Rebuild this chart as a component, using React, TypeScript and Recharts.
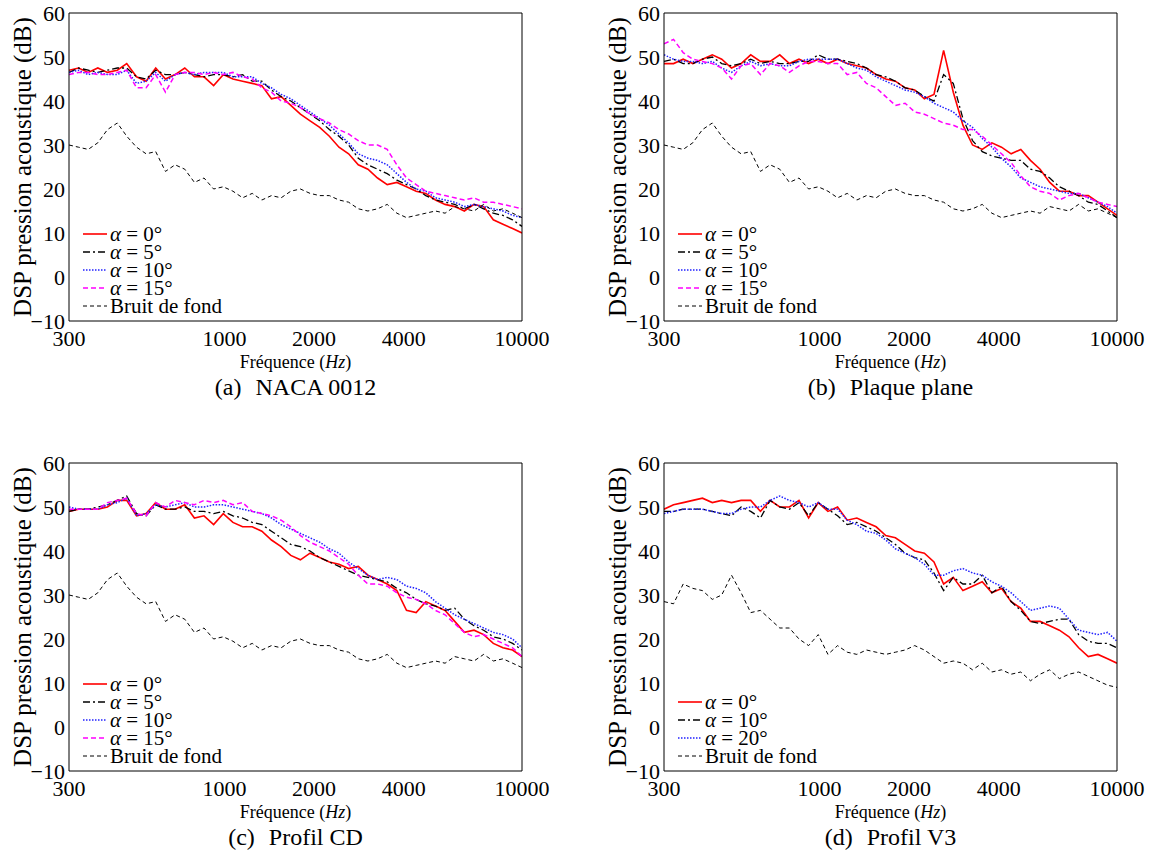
import { LineChart, Line, XAxis, YAxis } from "recharts";

// frequency grid (Hz), shared by every panel
const FREQ = [300, 323, 348, 375, 404, 436, 469, 506, 545, 587, 633, 682, 735, 792, 853, 919, 990, 1067, 1150, 1239, 1335, 1438, 1550, 1670, 1799, 1939, 2089, 2251, 2425, 2613, 2816, 3034, 3269, 3523, 3796, 4090, 4407, 4749, 5117, 5513, 5941, 6401, 6897, 7432, 8008, 8629, 9297, 10000];
const MAJOR_TICKS = [300, 1000, 2000, 4000, 10000];
const MINOR_TICKS = [600, 900, 1000, 2000, 4000, 8000];
const Y_TICKS = [-10, 0, 10, 20, 30, 40, 50, 60];

// background noise (same run for a, b, c)
const BG_ABC = [30, 29.5, 29, 30.5, 33.5, 35, 32, 29.5, 28, 28.5, 24, 25.5, 24.5, 21.5, 22.5, 20, 20.5, 19.5, 18, 19, 17.5, 18.5, 18, 19.5, 20, 19, 18.5, 18.5, 17.5, 17, 15.5, 15, 15.5, 16.5, 14.5, 13.5, 14, 14.5, 15, 14.5, 16, 15.5, 15, 16.5, 15, 15.5, 14.5, 13.5];
const BG_D = [28.5, 28, 32.5, 31.5, 31, 29, 30, 34.5, 30.5, 26, 26.5, 24.5, 22.5, 22.5, 20, 18.5, 21, 16.5, 18.5, 17, 16.5, 17.5, 17, 16.5, 17, 17.5, 18.5, 17.5, 16, 14.5, 15, 14.5, 13, 14.5, 12.5, 13, 12, 12.5, 10.5, 12, 13, 11, 12, 12.5, 11.5, 10.5, 9.5, 9];

// (a) NACA 0012
const A_A0 = [47, 47.5, 46.5, 47.5, 46.5, 47, 48.5, 45.5, 44.5, 47.5, 45, 46, 47.5, 45.5, 45.5, 43.5, 46, 45, 44.5, 44, 43.5, 40.5, 41, 39, 37, 35.5, 34, 32, 29.5, 28, 25.5, 24.5, 22.5, 21, 21.5, 20.5, 19.5, 19, 17.5, 16.5, 16, 15, 16.5, 16, 13, 12, 11, 10];
const A_A5 = [46.5, 47.5, 47, 46.5, 47, 47.5, 47.5, 45.5, 45, 47, 46, 46, 46.5, 46, 45.5, 46, 46, 45.5, 46, 44.5, 44.5, 42.5, 41, 40, 38.5, 37, 35.5, 33.5, 32, 30, 27, 25.5, 24.5, 23.5, 22, 21, 20, 18.5, 17.5, 17, 16.5, 15.5, 16.5, 15.5, 14.5, 14, 13, 11.5];
const A_A10 = [46.5, 47, 46, 46.5, 46, 46, 47, 44, 44.5, 46.5, 44.5, 46, 46.5, 46, 46.5, 46.5, 46.5, 45.5, 45.5, 45.5, 44, 43, 41.5, 40.5, 39, 37.5, 36, 34.5, 32.5, 30.5, 28, 27, 26.5, 25.5, 23.5, 21.5, 20, 19.5, 18, 17.5, 17, 16, 16.5, 16, 15.5, 15, 14, 13.5];
const A_A15 = [46, 46.5, 46.5, 46, 46, 46.5, 47, 43, 43, 46, 42, 46, 46.5, 46.5, 46, 46.5, 46, 46.5, 45.5, 45, 43, 42, 40, 39.5, 38.5, 37, 36, 35, 33.5, 32.5, 31, 30, 30, 29, 25.5, 22.5, 21, 19.5, 19, 18.5, 18, 17.5, 18, 17, 17, 16.5, 16, 15.5];

// (b) Plaque plane
const B_A0 = [48.5, 48.5, 49.5, 48.5, 49.5, 50.5, 49.5, 47.5, 48.5, 50.5, 49, 49, 50.5, 48.5, 49.5, 48.5, 49.5, 48.5, 49.5, 48.5, 48, 47.5, 46, 45, 44.5, 43, 42.5, 40.5, 41.5, 51.5, 42, 34.5, 30, 29, 30.5, 29.5, 28, 29, 26.5, 24.5, 21.5, 19.5, 19.5, 18.5, 18.5, 17, 15.5, 14];
const B_A5 = [49, 49.5, 48.5, 48.5, 49.5, 50, 48.5, 48, 48.5, 49.5, 48.5, 49, 48.5, 48.5, 49, 49, 50.5, 49.5, 49.5, 49, 48.5, 47.5, 46, 45.5, 44.5, 43, 42.5, 41, 40, 46, 44, 36, 31, 28.5, 27.5, 27, 26.5, 26.5, 24.5, 24, 22.5, 20.5, 19.5, 18.5, 17, 16.5, 15, 13.5];
const B_A10 = [50.5, 49.5, 49, 49, 48.5, 49, 47.5, 46.5, 48, 49, 48, 48.5, 48, 48, 49, 49.5, 49.5, 49.5, 49.5, 48.5, 47.5, 47, 45.5, 44.5, 43.5, 42.5, 42, 41, 39.5, 38.5, 37.5, 35.5, 34, 31.5, 29.5, 27, 25, 22.5, 21.5, 20.5, 20, 19.5, 19, 19, 18, 17, 16, 14.5];
const B_A15 = [53, 54, 51, 49.5, 49, 48.5, 47.5, 45, 48, 48.5, 46, 48.5, 48, 46.5, 48, 49, 49, 48.5, 48.5, 46, 46.5, 44, 43, 41, 39, 39.5, 37.5, 37, 36, 35, 34.5, 33.5, 33.5, 32, 30, 28, 26, 23, 20.5, 19.5, 19, 17.5, 18.5, 19, 18, 17, 16.5, 16];

// (c) Profil CD
const C_A0 = [49, 49.5, 49.5, 49.5, 50, 51.5, 51.5, 48, 48.5, 51, 49.5, 49.5, 50.5, 47.5, 48, 46, 48.5, 46.5, 45.5, 45.5, 44.5, 42.5, 41, 39, 38, 39.5, 38.5, 37.5, 37, 36, 36.5, 34.5, 33.5, 32.5, 31, 26.5, 26, 28.5, 27.5, 26.5, 24, 21.5, 22, 21, 19, 18, 17.5, 16];
const C_A5 = [49, 49.5, 49.5, 50, 50.5, 51.5, 52.5, 48.5, 48, 50.5, 49.5, 49.5, 50, 49, 49, 48.5, 49, 48, 47.5, 46.5, 46, 44.5, 43, 41.5, 41, 40, 38.5, 37.5, 36.5, 35.5, 34.5, 34, 33.5, 33, 31.5, 30.5, 29, 28, 27.5, 26.5, 27, 24.5, 23, 22, 20.5, 20, 19, 17.5];
const C_A10 = [50, 49.5, 49.5, 49.5, 50.5, 51, 52, 48, 48.5, 50.5, 50, 50.5, 51, 50, 50, 50.5, 50.5, 50, 49.5, 49, 48.5, 47.5, 46, 45, 44, 43, 42, 40.5, 39.5, 37.5, 36, 34.5, 33.5, 34, 33.5, 32, 31.5, 30.5, 28.5, 27, 25.5, 24.5, 23.5, 22.5, 21.5, 21, 20, 18];
const C_A15 = [49.5, 49.5, 49.5, 49.5, 51, 51.5, 52, 48.5, 48, 51, 50, 51.5, 51, 50.5, 51.5, 51, 51.5, 50.5, 51, 49, 48.5, 48, 47, 45.5, 43.5, 42, 41, 40, 38.5, 37, 34.5, 32.5, 32.5, 32, 30.5, 29.5, 29, 28, 26.5, 25.5, 23.5, 21.5, 20.5, 21, 20, 19, 18, 16];

// (d) Profil V3
const D_A0 = [49.5, 50.5, 51, 51.5, 52, 51, 51.5, 51, 51.5, 51.5, 49, 51.5, 50, 50, 51.5, 47.5, 51, 49, 50, 47, 47.5, 46.5, 45.5, 43.5, 43, 41.5, 40, 39.5, 37.5, 32.5, 34, 31, 32, 33, 30.5, 31.5, 28.5, 27, 24, 24, 23, 22, 20.5, 18, 16, 16.5, 15.5, 14.5];
const D_A10 = [49, 49, 49.5, 49.5, 49.5, 49, 48.5, 48, 50, 49, 47.5, 51.5, 50, 49.5, 51, 48, 51, 49.5, 48, 46, 46.5, 45.5, 44.5, 43, 41.5, 39.5, 38.5, 38, 35, 31, 34, 32.5, 32.5, 34.5, 30.5, 32, 28.5, 26.5, 24, 23.5, 24, 24.5, 24.5, 21, 19.5, 19, 19, 18];
const D_A20 = [48.5, 49, 49.5, 49.5, 49.5, 49, 48.5, 48.5, 49.5, 50, 50, 51.5, 52.5, 51.5, 51, 50, 51, 49.5, 49.5, 47, 46, 44.5, 44, 42.5, 40.5, 39.5, 38.5, 37, 34.5, 34.5, 35.5, 36, 35, 34.5, 33, 32, 30.5, 28.5, 26.5, 27, 27.5, 27, 24.5, 22, 21.5, 21, 21.5, 19.5];

const FONT = '"Liberation Serif", "DejaVu Serif", serif';
const TICK_STYLE = { fill: "#000", fontSize: 22, fontFamily: FONT };

type Kind = "red" | "black" | "blue" | "magenta" | "bg";

const LINE_STYLE: Record<Kind, { stroke: string; dash?: string; width: number }> = {
  red: { stroke: "#ff0000", width: 1.6 },
  black: { stroke: "#000000", dash: "7 3 2 3", width: 1.3 },
  blue: { stroke: "#2020ff", dash: "1.5 1.5", width: 1.5 },
  magenta: { stroke: "#ff00ff", dash: "5 3", width: 1.5 },
  bg: { stroke: "#000000", dash: "4 3", width: 1 },
};

type Series = { angle: string; values: number[]; kind: Kind };
type PanelDef = { tag: string; title: string; left: number; top: number; series: Series[]; bg: number[] };

const PANELS: PanelDef[] = [
  {
    tag: "(a)", title: "NACA 0012", left: 69, top: 13, bg: BG_ABC,
    series: [
      { angle: "0", values: A_A0, kind: "red" },
      { angle: "5", values: A_A5, kind: "black" },
      { angle: "10", values: A_A10, kind: "blue" },
      { angle: "15", values: A_A15, kind: "magenta" },
    ],
  },
  {
    tag: "(b)", title: "Plaque plane", left: 664, top: 13, bg: BG_ABC,
    series: [
      { angle: "0", values: B_A0, kind: "red" },
      { angle: "5", values: B_A5, kind: "black" },
      { angle: "10", values: B_A10, kind: "blue" },
      { angle: "15", values: B_A15, kind: "magenta" },
    ],
  },
  {
    tag: "(c)", title: "Profil CD", left: 69, top: 463, bg: BG_ABC,
    series: [
      { angle: "0", values: C_A0, kind: "red" },
      { angle: "5", values: C_A5, kind: "black" },
      { angle: "10", values: C_A10, kind: "blue" },
      { angle: "15", values: C_A15, kind: "magenta" },
    ],
  },
  {
    tag: "(d)", title: "Profil V3", left: 664, top: 463, bg: BG_D,
    series: [
      { angle: "0", values: D_A0, kind: "red" },
      { angle: "10", values: D_A10, kind: "black" },
      { angle: "20", values: D_A20, kind: "blue" },
    ],
  },
];

const PLOT_W = 453;
const PLOT_H = 308;
const AXIS_W = 70;
const RIGHT_PAD = 36;

const fmtY = (v: number) => (v < 0 ? `\u2212${-v}` : `${v}`);

function LegendSample({ kind }: { kind: Kind }) {
  const st = LINE_STYLE[kind];
  return (
    <svg width={24} height={6} style={{ display: "block" }}>
      <line x1={0} y1={3} x2={24} y2={3} stroke={st.stroke} strokeWidth={st.width} strokeDasharray={st.dash} />
    </svg>
  );
}

function Panel({ p }: { p: PanelDef }) {
  const rows = FREQ.map((f, i) => {
    const r: Record<string, number> = { f, bg: p.bg[i] };
    p.series.forEach((s, k) => {
      r["s" + k] = s.values[i];
    });
    return r;
  });

  const legendItems = [
    ...p.series.map((s) => ({ kind: s.kind, label: <><i>α</i>{` = ${s.angle}°`}</> })),
    { kind: "bg" as Kind, label: <>Bruit de fond</> },
  ];
  const n = legendItems.length;
  const cx = p.left + PLOT_W / 2;

  const minorX = { type: "number" as const, scale: "log" as const, domain: [300, 10000], allowDataOverflow: true, ticks: MINOR_TICKS, interval: 0, tick: false, tickSize: 5, tickLine: { stroke: "#000" } };
  const minorY = { type: "number" as const, domain: [-10, 60], allowDataOverflow: true, ticks: Y_TICKS, interval: 0, tick: false, tickSize: 5, tickLine: { stroke: "#000" } };

  return (
    <>
      <div style={{ position: "absolute", left: p.left - AXIS_W, top: p.top - 13 }}>
        <LineChart width={AXIS_W + PLOT_W + RIGHT_PAD} height={13 + PLOT_H + 30} data={rows} margin={{ top: 13, right: RIGHT_PAD, bottom: 0, left: 0 }}>
          <XAxis xAxisId="x" dataKey="f" type="number" scale="log" domain={[300, 10000]} allowDataOverflow ticks={MAJOR_TICKS} interval={0} tickLine={false} tickSize={0} tickMargin={9} height={30} axisLine={{ stroke: "#000" }} tick={TICK_STYLE} />
          <XAxis xAxisId="xb" orientation="bottom" mirror axisLine={false} {...minorX} />
          <XAxis xAxisId="xt" orientation="top" mirror axisLine={{ stroke: "#000" }} {...minorX} />
          <YAxis yAxisId="y" type="number" domain={[-10, 60]} allowDataOverflow ticks={Y_TICKS} interval={0} tickLine={false} tickSize={0} tickMargin={4} width={AXIS_W} axisLine={{ stroke: "#000" }} tick={TICK_STYLE} tickFormatter={fmtY} />
          <YAxis yAxisId="yl" orientation="left" mirror axisLine={false} {...minorY} />
          <YAxis yAxisId="yr" orientation="right" mirror axisLine={{ stroke: "#000" }} {...minorY} />
          {p.series.map((s, k) => (
            <Line key={k} xAxisId="x" yAxisId="y" type="linear" dataKey={"s" + k} stroke={LINE_STYLE[s.kind].stroke} strokeWidth={LINE_STYLE[s.kind].width} strokeDasharray={LINE_STYLE[s.kind].dash} dot={false} isAnimationActive={false} />
          ))}
          <Line xAxisId="x" yAxisId="y" type="linear" dataKey="bg" stroke={LINE_STYLE.bg.stroke} strokeWidth={LINE_STYLE.bg.width} strokeDasharray={LINE_STYLE.bg.dash} dot={false} isAnimationActive={false} />
        </LineChart>
      </div>

      {/* y-axis title */}
      <div style={{ position: "absolute", left: p.left - 46 - 170, top: p.top + PLOT_H / 2 - 15, width: 340, height: 30, lineHeight: "30px", textAlign: "center", fontSize: 25, transform: "rotate(-90deg)", whiteSpace: "nowrap" }}>
        DSP pression acoustique (dB)
      </div>

      {/* legend */}
      {legendItems.map((it, k) => (
        <div key={k} style={{ position: "absolute", left: p.left + 14, top: p.top + PLOT_H - 15 - 18 * (n - 1 - k) - 9, height: 18, display: "flex", alignItems: "center", fontSize: 21, lineHeight: "18px", whiteSpace: "nowrap" }}>
          <LegendSample kind={it.kind} />
          <span style={{ marginLeft: 3 }}>{it.label}</span>
        </div>
      ))}

      {/* x-axis title */}
      <div style={{ position: "absolute", left: cx - 100, top: p.top + 349 - 11, width: 200, height: 22, lineHeight: "22px", textAlign: "center", fontSize: 18, whiteSpace: "nowrap" }}>
        Fréquence (<i>Hz</i>)
      </div>

      {/* caption */}
      <div style={{ position: "absolute", left: cx - 150, top: p.top + 374 - 14, width: 300, height: 28, lineHeight: "28px", textAlign: "center", fontSize: 24, whiteSpace: "nowrap" }}>
        {p.tag}
        <span style={{ marginLeft: 14 }}>{p.title}</span>
      </div>
    </>
  );
}

export default function App() {
  return (
    <div style={{ position: "absolute", left: 0, top: 0, width: 1158, height: 856, background: "#fff", fontFamily: FONT, color: "#000" }}>
      {PANELS.map((p) => (
        <Panel key={p.tag} p={p} />
      ))}
    </div>
  );
}
